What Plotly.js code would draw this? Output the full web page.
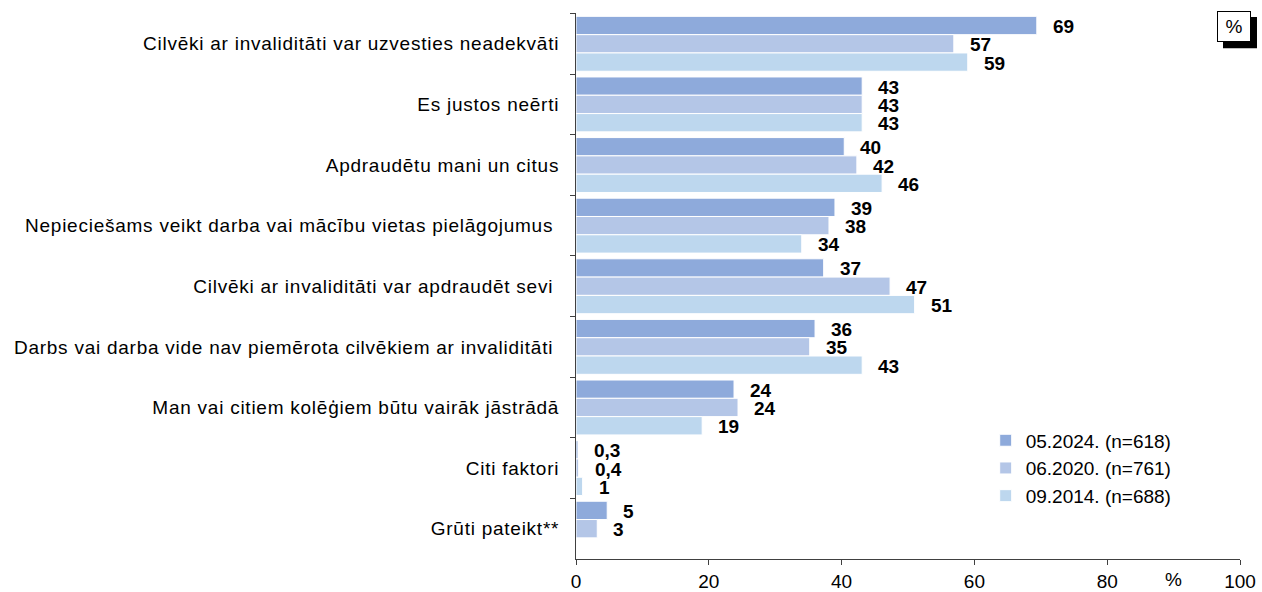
<!DOCTYPE html>
<html>
<head>
<meta charset="utf-8">
<script src="https://cdn.plot.ly/plotly-3.0.1.min.js"></script>
<style>
  html, body { margin: 0; padding: 0; background: #fff; }
  #chart { width: 1262px; height: 592px; }
  #chart .ytick text { letter-spacing: 0.75px; }
</style>
</head>
<body>
<div id="chart"></div>
<script>
var categories = [
  'Cilvēki ar invaliditāti var uzvesties neadekvāti',
  'Es justos neērti',
  'Apdraudētu mani un citus',
  'Nepieciešams veikt darba vai mācību vietas pielāgojumus ',
  'Cilvēki ar invaliditāti var apdraudēt sevi ',
  'Darbs vai darba vide nav piemērota cilvēkiem ar invaliditāti ',
  'Man vai citiem kolēģiem būtu vairāk jāstrādā',
  'Citi faktori',
  'Grūti pateikt**'
];

var seriesNames = ['05.2024. (n=618)', '06.2020. (n=761)', '09.2014. (n=688)'];
var values2024 = [69.4, 43.1, 40.4, 39, 37.3, 36, 23.8, 0.3, 4.7];
var values2020 = [56.9, 43.1, 42.3, 38.1, 47.3, 35.2, 24.4, 0.4, 3.2];
var values2014 = [59, 43.1, 46.1, 34, 51, 43.1, 19, 1, null];
var colors = ['#8eaadb', '#b4c6e7', '#bdd7ee'];

var xTicks = [0, 20, 40, 60, 80, 100];

var allValues = [values2024, values2020, values2014];
var bargap = 0.094;
var fontFam = 'Liberation Sans, Arial, sans-serif';

function fmtLabel(v) {
  if (v < 1) return String(v).replace('.', ',');
  return String(Math.round(v));
}

var data = [];
for (var s = 0; s < allValues.length; s++) {
  data.push({
    type: 'bar',
    orientation: 'h',
    name: seriesNames[s],
    x: allValues[s],
    y: categories,
    marker: { color: colors[s], line: { color: '#ffffff', width: 1 } },
    hoverinfo: 'x+name'
  });
}

// value labels, right of each bar
var annotations = [];
var barW = (1 - bargap) / allValues.length;
for (var s = 0; s < allValues.length; s++) {
  for (var i = 0; i < categories.length; i++) {
    var v = allValues[s][i];
    if (v === null) continue;
    annotations.push({
      xref: 'x', yref: 'y',
      x: v,
      y: i - (1 - bargap) / 2 + (s + 0.5) * barW,
      text: '<b>' + fmtLabel(v) + '</b>',
      showarrow: false,
      xanchor: 'left', yanchor: 'middle',
      xshift: 15, yshift: -1, borderpad: 0,
      font: { family: fontFam, size: 19, color: '#000' }
    });
  }
}

// "%" after axis ticks
annotations.push({
  xref: 'x', yref: 'paper', x: 90, y: 0,
  text: '%', showarrow: false, yanchor: 'top', yshift: -9, borderpad: 0,
  font: { family: fontFam, size: 19, color: '#000' }
});

// boxed "%" (drop shadow is the shape below)
annotations.push({
  xref: 'paper', yref: 'paper', x: 0.991, y: 0.975,
  text: '%', showarrow: false, xanchor: 'center', yanchor: 'middle',
  width: 30, height: 27, borderpad: 1,
  bgcolor: '#fff', bordercolor: '#000', borderwidth: 1,
  font: { family: fontFam, size: 19, color: '#000' }
});

var shapes = [{
  type: 'rect', layer: 'above',
  xref: 'paper', yref: 'paper',
  x0: 0.9744, x1: 1.0256, y0: 0.9355, y1: 0.9926,
  fillcolor: '#000', line: { width: 0 }
}];

var layout = {
  width: 1262,
  height: 592,
  margin: { l: 576, r: 22, t: 13, b: 33 },
  paper_bgcolor: '#fff',
  plot_bgcolor: '#fff',
  font: { family: fontFam, size: 19, color: '#000' },
  barmode: 'group',
  bargap: bargap,
  bargroupgap: 0,
  showlegend: true,
  legend: {
    x: 0.617, y: 0.252, xanchor: 'left', yanchor: 'top',
    bgcolor: 'rgba(0,0,0,0)',
    font: { family: fontFam, size: 19, color: '#000' },
    tracegroupgap: 0
  },
  xaxis: {
    range: [0, 100],
    tickvals: xTicks,
    ticks: 'outside', ticklen: 5, tickcolor: '#404040',
    showline: true, linecolor: '#404040', linewidth: 1,
    showgrid: false, zeroline: false,
    tickfont: { family: fontFam, size: 19, color: '#000' },
    fixedrange: true
  },
  yaxis: {
    type: 'category',
    autorange: 'reversed',
    ticks: 'outside', ticklen: 5, tickcolor: '#404040',
    tickson: 'boundaries',
    showline: true, linecolor: '#404040', linewidth: 1,
    showgrid: false, zeroline: false,
    ticklabelstandoff: 12,
    tickfont: { family: fontFam, size: 19, color: '#000' },
    fixedrange: true
  },
  shapes: shapes,
  annotations: annotations
};

Plotly.newPlot('chart', data, layout, { displayModeBar: false, staticPlot: true });
</script>
</body>
</html>
